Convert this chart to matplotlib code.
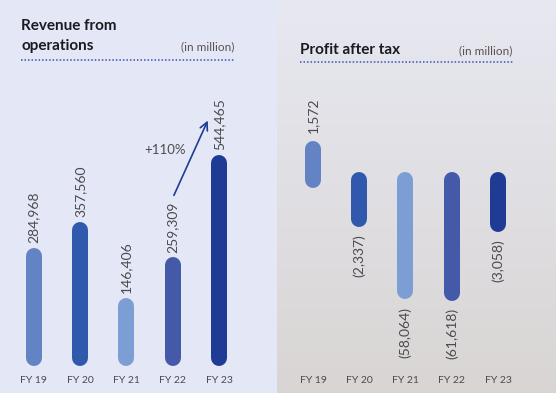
import numpy as np
import matplotlib.pyplot as plt
from matplotlib.lines import Line2D

# data
years = ['FY 19', 'FY 20', 'FY 21', 'FY 22', 'FY 23']
revenue = [284968, 357560, 146406, 259309, 544465]
profit = [1572, -2337, -58064, -61618, -3058]
bar_colors = ['#6383c4', '#3059ad', '#7d9dd5', '#4559a9', '#1f3c95']
growth_label = '+110%'

W, H = 556, 393
fig = plt.figure(figsize=(W / 100, H / 100), dpi=100)
fig.patch.set_facecolor('#e4e8f6')
plt.rcParams['font.family'] = ['Lato', 'DejaVu Sans']

def px(x0, y0, w, h):
    # rectangle in pixels (from top-left) -> figure fraction
    return [x0 / W, 1 - (y0 + h) / H, w / W, h / H]

# right background gradient
bg = fig.add_axes(px(277, 0, W - 277, H), zorder=0)
grad = np.linspace(0, 1, 256)[:, None]
top = np.array([0.905, 0.91, 0.945])
bot = np.array([0.85, 0.835, 0.83])
img = top[None, None, :] * (1 - grad[..., None]) + bot[None, None, :] * grad[..., None]
bg.imshow(img, aspect='auto', extent=[0, 1, 0, 1])
bg.axis('off')

txt_col = '#4a4a50'
lw = 16 * 0.72  # 16 px wide bars

# ---- Revenue panel
ax1 = fig.add_axes(px(10.5, 58, 231.8, 300), zorder=2)
ax1.patch.set_alpha(0)
ax1.vlines(range(len(years)), 0, revenue, colors=bar_colors, linewidth=lw,
           capstyle='round', clip_on=False)
for i, v in enumerate(revenue):
    ax1.annotate(f'{v:,}', (i, v), xytext=(0, 9), textcoords='offset points',
                 rotation=90, ha='center', va='bottom', fontsize=10, color=txt_col)
ax1.set_xlim(-0.5, 4.5)
ax1.set_ylim(0, 544465 * 300 / 195)
ax1.annotate('', xy=(3.78, 670000), xytext=(3.0, 447000),
             arrowprops=dict(arrowstyle='->', color='#1f3c95', lw=1.2,
                             mutation_scale=14))
ax1.text(2.83, 581000, growth_label, ha='center', va='center', fontsize=9.5,
         color=txt_col)
ax1.set_xticks(range(len(years)), years)
ax1.tick_params(axis='x', length=0, pad=13, labelsize=7.5, labelcolor=txt_col)
ax1.set_yticks([])
for s in ax1.spines.values():
    s.set_visible(False)

# ---- Profit panel (compressed scale)
c = 600.0
def fwd(x):
    x = np.asarray(x, dtype=float)
    return np.sign(x) * np.log10(1 + np.abs(x) / c)
def inv(y):
    y = np.asarray(y, dtype=float)
    return np.sign(y) * c * (10 ** np.abs(y) - 1)

ax2 = fig.add_axes(px(289.9, 73, 231.2, 300), zorder=2)
ax2.patch.set_alpha(0)
ax2.set_yscale('function', functions=(fwd, inv))
ax2.set_ylim(float(inv(-193 / 56)), float(inv(107 / 56)))
ax2.set_xlim(-0.5, 4.5)
ax2.vlines(range(len(years)), 0, profit, colors=bar_colors, linewidth=lw,
           capstyle='round', clip_on=False)
for i, v in enumerate(profit):
    if v >= 0:
        ax2.annotate(f'{v:,}', (i, v), xytext=(0, 11), textcoords='offset points',
                     rotation=90, ha='center', va='bottom', fontsize=10, color=txt_col)
    else:
        ax2.annotate(f'({-v:,})', (i, v), xytext=(0, -11), textcoords='offset points',
                     rotation=90, ha='center', va='top', fontsize=10, color=txt_col)
ax2.set_xticks(range(len(years)), years)
ax2.tick_params(axis='x', length=0, pad=2, labelsize=7.5, labelcolor=txt_col)
ax2.set_yticks([])
ax2.minorticks_off()
for s in ax2.spines.values():
    s.set_visible(False)

# ---- headers
fig.text(21 / W, 1 - 26 / H, 'Revenue from', fontsize=11, fontweight='bold',
         color='#1a1a22', va='center')
fig.text(21 / W, 1 - 46 / H, 'operations', fontsize=11, fontweight='bold',
         color='#1a1a22', va='center')
fig.text(234 / W, 1 - 47 / H, '(in million)', fontsize=8.5, color='#5a5050',
         ha='right', va='center')
fig.text(300 / W, 1 - 50 / H, 'Profit after tax', fontsize=11, fontweight='bold',
         color='#1a1a22', va='center')
fig.text(512 / W, 1 - 51 / H, '(in million)', fontsize=8.5, color='#5a5050',
         ha='right', va='center')
for x0, x1, y in [(21, 234, 60), (300, 513, 62)]:
    fig.add_artist(Line2D([x0 / W, x1 / W], [1 - y / H, 1 - y / H], color='#3b4fb0',
                          lw=1.1, linestyle=(0, (1, 1.3)), transform=fig.transFigure))

fig.savefig('out.png', dpi=100)
